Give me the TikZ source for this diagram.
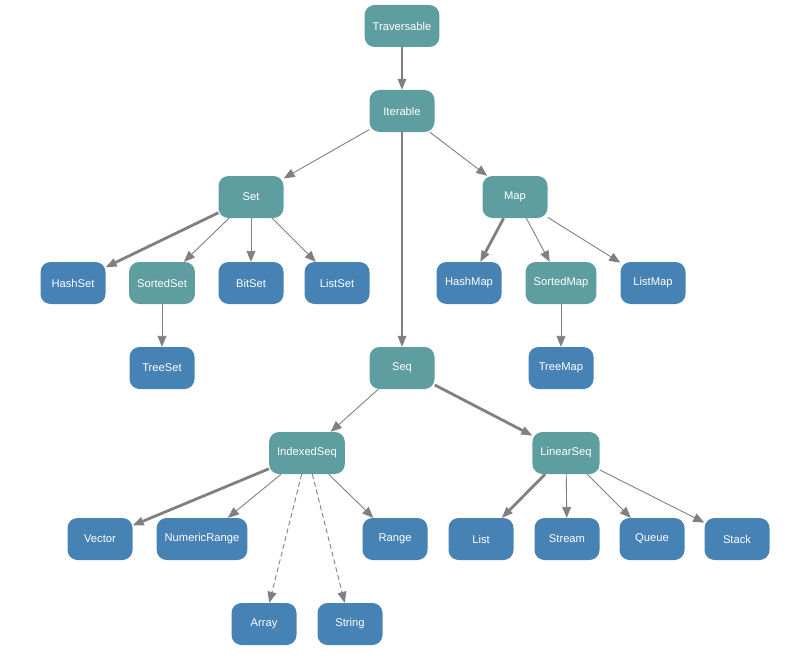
\documentclass[tikz,border=0pt]{standalone}
\usepackage{fontspec}
\setmainfont{Liberation Sans}
\usetikzlibrary{arrows.meta}
\definecolor{tealbox}{HTML}{5F9EA0}
\definecolor{bluebox}{HTML}{4682B4}
\definecolor{edgegray}{HTML}{808080}
\begin{document}
\begin{tikzpicture}[x=1pt,y=-1pt,
  base/.style={rectangle, rounded corners=10pt, minimum height=42pt, minimum width=65pt, inner xsep=8pt, text=white, font=\fontsize{11.2}{13}\selectfont},
  trait/.style={base, fill=tealbox},
  impl/.style={base, fill=bluebox},
  edge/.style={draw=edgegray, line width=0.9pt, -{Triangle[length=11pt,width=9pt]}},
  thick edge/.style={edge, line width=2.8pt, -{Triangle[length=11pt,width=9pt,line width=0pt]}},
  dash edge/.style={edge, dashed, dash pattern=on 5pt off 3pt}
]
\useasboundingbox (0,0) rectangle (785,669);
\node[trait] (trav) at (402,26) {Traversable};
\node[trait] (iter) at (402,111) {Iterable};
\node[trait] (set) at (251,197) {Set};
\node[trait] (map) at (515,197) {Map};
\node[impl] (hashset) at (73,283) {HashSet};
\node[trait] (sortedset) at (162,283) {SortedSet};
\node[impl] (bitset) at (251,283) {BitSet};
\node[impl] (listset) at (337,283) {ListSet};
\node[impl] (hashmap) at (469,283) {HashMap};
\node[trait] (sortedmap) at (561,283) {SortedMap};
\node[impl] (listmap) at (653,283) {ListMap};
\node[impl] (treeset) at (162,368) {TreeSet};
\node[impl] (treemap) at (561,368) {TreeMap};
\node[trait] (seq) at (402,368) {Seq};
\node[trait] (idx) at (307,453) {IndexedSeq};
\node[trait] (lin) at (566,453) {LinearSeq};
\node[impl] (vector) at (100,539) {Vector};
\node[impl] (numrange) at (202,539) {NumericRange};
\node[impl] (range) at (395,539) {Range};
\node[impl] (list) at (481,539) {List};
\node[impl] (stream) at (567,539) {Stream};
\node[impl] (queue) at (652,539) {Queue};
\node[impl] (stack) at (737,539) {Stack};
\node[impl] (array) at (264,624) {Array};
\node[impl] (string) at (350,624) {String};

\draw[thick edge] (trav) -- (iter);
\draw[thick edge] (iter) -- (seq);
\draw[edge] (iter) -- (set);
\draw[edge] (iter) -- (map);
\draw[thick edge] (set) -- (hashset);
\draw[edge] (set) -- (sortedset);
\draw[edge] (set) -- (bitset);
\draw[edge] (set) -- (listset);
\draw[edge] (sortedset) -- (treeset);
\draw[thick edge] (map) -- (hashmap);
\draw[edge] (map) -- (sortedmap);
\draw[edge] (map) -- (listmap);
\draw[edge] (sortedmap) -- (treemap);
\draw[edge] (seq) -- (idx);
\draw[thick edge] (seq) -- (lin);
\draw[thick edge] (idx) -- (vector);
\draw[edge] (idx) -- (numrange);
\draw[edge] (idx) -- (range);
\draw[dash edge] (idx) -- (array);
\draw[dash edge] (idx) -- (string);
\draw[thick edge] (lin) -- (list);
\draw[edge] (lin) -- (stream);
\draw[edge] (lin) -- (queue);
\draw[edge] (lin) -- (stack);
\end{tikzpicture}
\end{document}
